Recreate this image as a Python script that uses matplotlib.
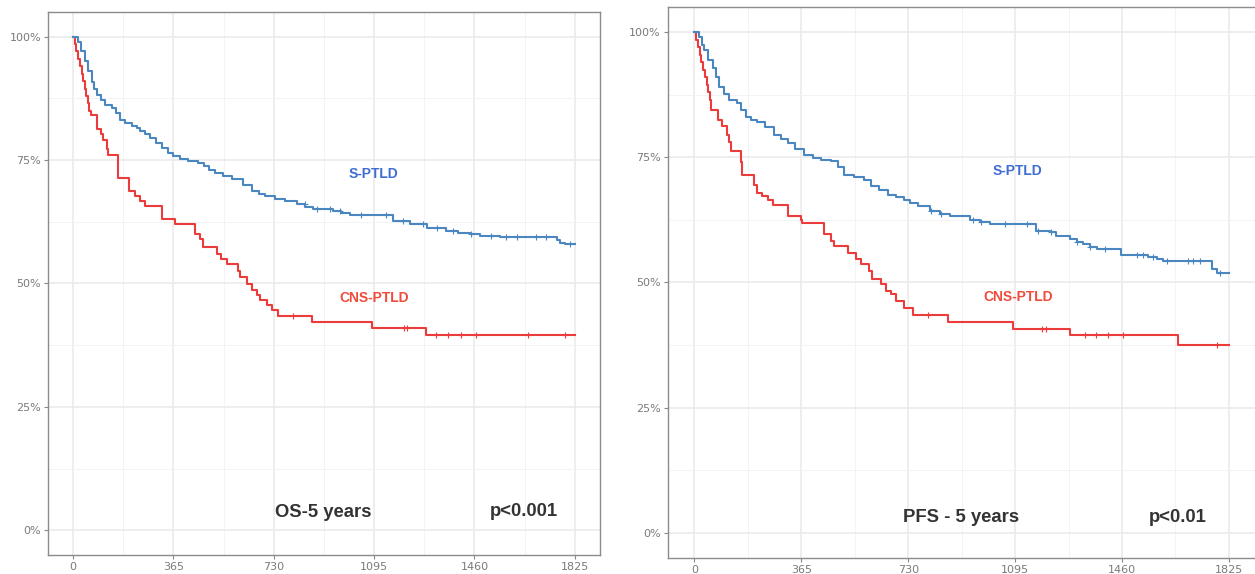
import numpy as np
import matplotlib
matplotlib.use("Agg")
import matplotlib.pyplot as plt

# dias / sobrevida (KM)
dias_ticks = [0, 365, 730, 1095, 1460, 1825]
pct_ticks = [0, 0.25, 0.5, 0.75, 1.0]
pct_labels = ["0%", "25%", "50%", "75%", "100%"]
t_fin = 1825

# OS - CNS-PTLD
os_cns_t = [0, 6, 12, 18, 25, 31, 37, 43, 48, 53, 58, 64, 86, 103, 110, 122, 128,
            165, 204, 225, 244, 262, 322, 371, 443, 462, 474, 522, 540, 560, 601,
            607, 631, 650, 668, 680, 704, 722, 746, 868, 1089, 1283]
os_cns_s = [1.0, .985, .97, .955, .94, .925, .91, .895, .88, .865, .85, .842, .812,
            .802, .79, .772, .761, .714, .688, .677, .667, .657, .631, .620, .600,
            .590, .573, .560, .550, .540, .526, .513, .499, .486, .476, .466, .456,
            .446, .435, .422, .409, .395]
os_cns_cens = [801, 1205, 1213, 1320, 1365, 1410, 1467, 1654, 1789]

# OS - S-PTLD
os_s_t = [0, 19, 30, 44, 56, 68, 78, 86, 100, 116, 141, 155, 171, 190, 213, 232, 245,
          262, 280, 300, 322, 345, 365, 390, 419, 455, 475, 495, 516, 545, 577, 620,
          650, 675, 698, 735, 771, 813, 845, 874, 946, 975, 1007, 1165, 1225, 1286,
          1358, 1400, 1443, 1480, 1552, 1760, 1770, 1790]
os_s_s = [1.0, .99, .97, .95, .93, .909, .893, .882, .872, .862, .855, .845, .832, .825,
          .819, .815, .808, .802, .795, .785, .775, .765, .758, .752, .748, .745, .738,
          .730, .724, .717, .711, .70, .688, .682, .677, .672, .667, .661, .655, .651,
          .647, .642, .638, .627, .620, .613, .607, .603, .600, .597, .595, .588, .583,
          .580]
os_s_cens = [843, 886, 934, 970, 1049, 1140, 1200, 1273, 1322, 1382, 1449, 1522,
             1576, 1613, 1685, 1722, 1807]

# PFS - CNS-PTLD
pfs_cns_t = [0, 6, 12, 18, 24, 30, 36, 42, 47, 52, 56, 80, 95, 110, 118, 124, 160, 164,
             205, 215, 232, 250, 267, 318, 363, 369, 443, 466, 477, 523, 551, 568, 597,
             608, 637, 654, 671, 688, 717, 746, 866, 1088, 1282, 1652]
pfs_cns_s = [1.0, .985, .97, .955, .94, .925, .91, .895, .88, .865, .845, .825, .812,
             .795, .78, .762, .74, .715, .695, .679, .672, .665, .655, .632, .625, .619,
             .596, .582, .572, .559, .546, .536, .523, .506, .496, .483, .476, .463,
             .450, .435, .422, .408, .395, .376]
pfs_cns_cens = [797, 1188, 1200, 1333, 1370, 1412, 1463, 1783]

# PFS - S-PTLD
pfs_s_t = [0, 16, 25, 33, 48, 62, 73, 84, 100, 119, 147, 160, 175, 195, 215, 240, 272,
           295, 318, 345, 375, 405, 432, 466, 490, 512, 545, 580, 603, 630, 660, 690,
           717, 735, 762, 803, 840, 872, 940, 975, 1008, 1168, 1213, 1236, 1282, 1305,
           1327, 1350, 1373, 1458, 1549, 1580, 1601, 1766, 1783]
pfs_s_s = [1.0, .99, .975, .964, .945, .928, .91, .891, .876, .865, .858, .845, .831,
           .825, .821, .81, .795, .786, .778, .766, .755, .749, .745, .742, .73, .715,
           .71, .705, .692, .684, .675, .67, .665, .659, .652, .642, .637, .632, .625,
           .62, .616, .602, .60, .592, .586, .581, .576, .571, .566, .554, .55, .546,
           .542, .526, .518]
pfs_s_cens = [809, 843, 951, 980, 1060, 1134, 1174, 1219, 1305, 1350, 1402, 1510,
              1532, 1566, 1612, 1686, 1703, 1726, 1795]

azul = "#4a86c0"
rojo = "#ec3b3b"
azul_txt = "#3f6dd2"
rojo_txt = "#f04c3c"


def curva(ax, t, s, cens, color):
    tt = np.append(t, t_fin)
    ss = np.append(s, s[-1])
    ax.step(tt, ss, where="post", color=color, lw=1.5, zorder=3)
    idx = np.searchsorted(t, cens, side="right") - 1
    ax.plot(cens, np.array(s)[idx], ls="none", marker="+", ms=4, mew=0.8,
            color=color, zorder=4)


def estilo(ax):
    ax.set_xlim(-0.05 * t_fin, 1.05 * t_fin)
    ax.set_ylim(-0.05, 1.05)
    ax.set_xticks(dias_ticks)
    ax.set_xticklabels([str(d) for d in dias_ticks])
    ax.set_yticks(pct_ticks)
    ax.set_yticklabels(pct_labels)
    ax.set_xticks([182.5, 547.5, 912.5, 1277.5, 1642.5], minor=True)
    ax.set_yticks([0.125, 0.375, 0.625, 0.875], minor=True)
    ax.grid(which="major", color="#ebebeb", lw=1.2, zorder=0)
    ax.grid(which="minor", color="#f3f3f3", lw=0.7, zorder=0)
    ax.tick_params(which="minor", length=0)
    ax.tick_params(which="major", length=3, color="#888888", width=0.8,
                   labelsize=8, labelcolor="#7a7a7a", pad=2)
    for sp in ax.spines.values():
        sp.set_color("#8c8c8c")
        sp.set_linewidth(1.0)
    ax.set_axisbelow(True)


fig = plt.figure(figsize=(12.55, 5.74), dpi=100)
ax1 = fig.add_axes([0.0382, 0.0331, 0.4398, 0.946])
ax2 = fig.add_axes([0.532, 0.0279, 0.4685, 0.960])

fuente = "Liberation Sans"

estilo(ax1)
curva(ax1, os_cns_t, os_cns_s, os_cns_cens, rojo)
curva(ax1, os_s_t, os_s_s, os_s_cens, azul)
ax1.text(1094, 0.722, "S-PTLD", color=azul_txt, fontsize=10, fontweight="bold",
         family=fuente, ha="center", va="center")
ax1.text(1094, 0.47, "CNS-PTLD", color=rojo_txt, fontsize=10, fontweight="bold",
         family=fuente, ha="center", va="center")
ax1.text(911, 0.036, "OS-5 years", color="#333333", fontsize=13.3, fontweight="bold",
         family=fuente, ha="center", va="center")
ax1.text(1639, 0.038, "p<0.001", color="#333333", fontsize=13.3, fontweight="bold",
         family=fuente, ha="center", va="center")

estilo(ax2)
curva(ax2, pfs_cns_t, pfs_cns_s, pfs_cns_cens, rojo)
curva(ax2, pfs_s_t, pfs_s_s, pfs_s_cens, azul)
ax2.text(1104, 0.723, "S-PTLD", color=azul_txt, fontsize=10, fontweight="bold",
         family=fuente, ha="center", va="center")
ax2.text(1104, 0.47, "CNS-PTLD", color=rojo_txt, fontsize=10, fontweight="bold",
         family=fuente, ha="center", va="center")
ax2.text(911, 0.03, "PFS - 5 years", color="#333333", fontsize=13.3, fontweight="bold",
         family=fuente, ha="center", va="center")
ax2.text(1650, 0.03, "p<0.01", color="#333333", fontsize=13.3, fontweight="bold",
         family=fuente, ha="center", va="center")

fig.savefig("out.png", dpi=100)
